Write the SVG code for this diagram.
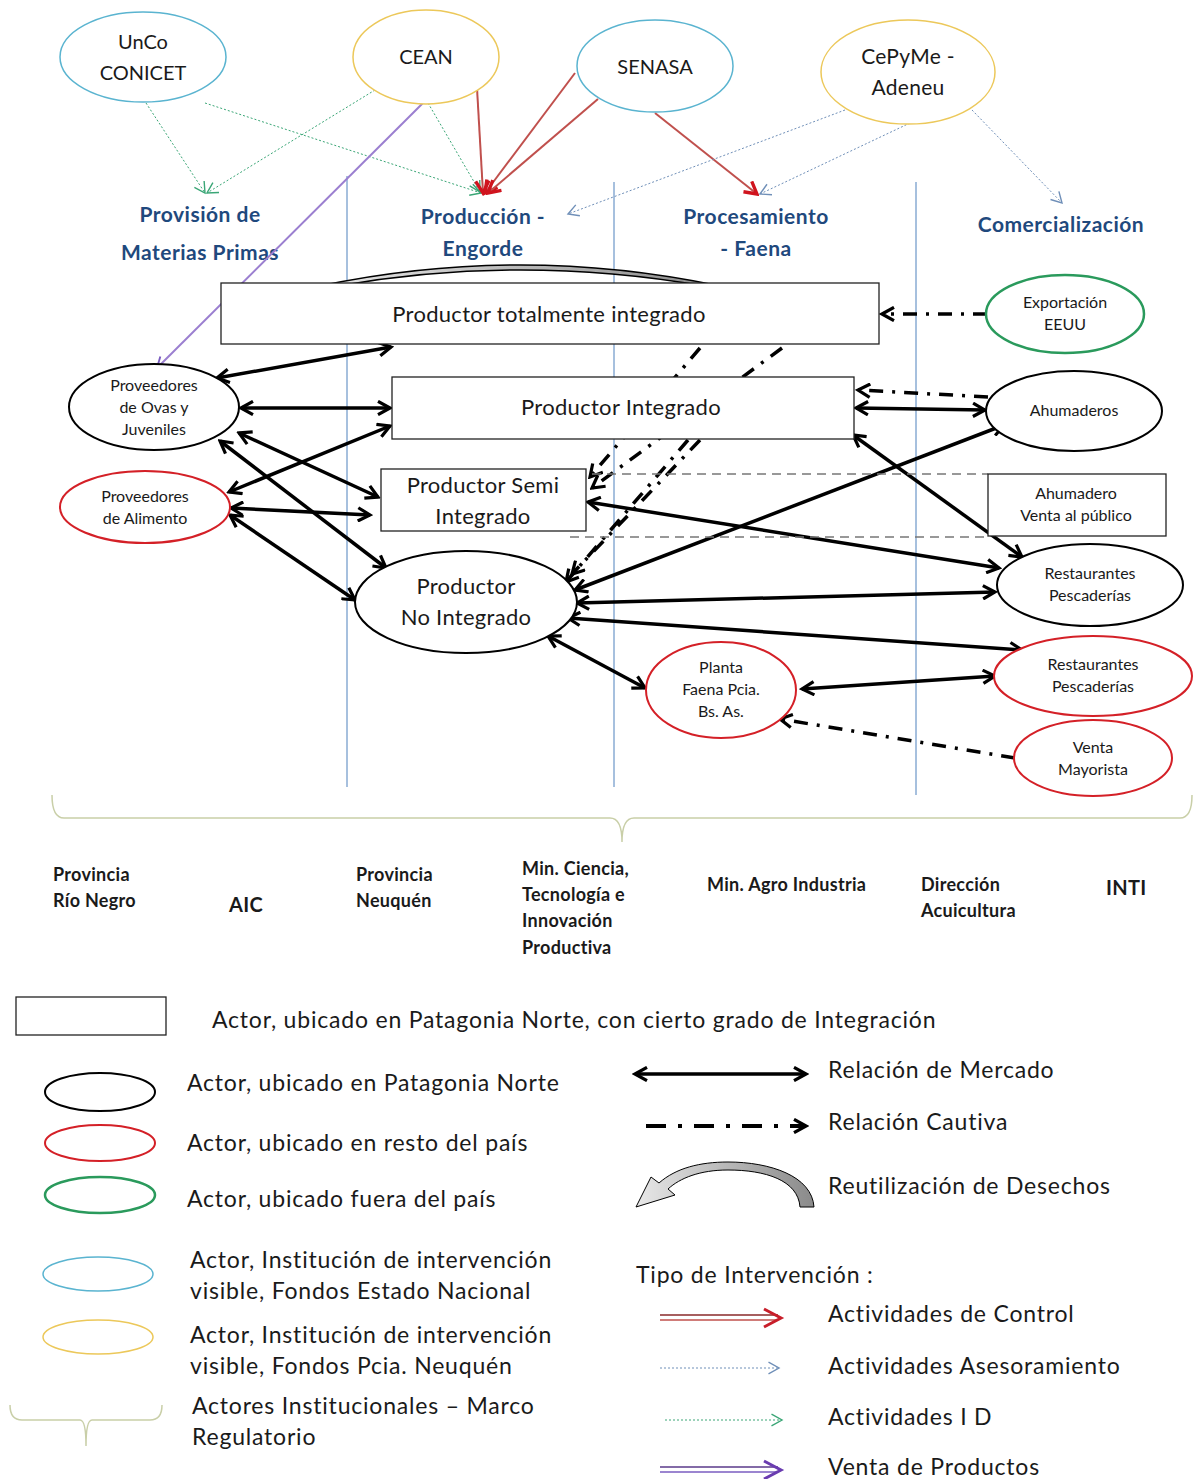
<svg xmlns="http://www.w3.org/2000/svg" width="1194" height="1479" viewBox="0 0 1194 1479">
<defs>
<style>
text{font-family:Lato,"Open Sans","Liberation Sans",sans-serif;fill:#1a1a1a}
.nt{font-size:16px;text-anchor:middle}
.bt{font-size:22px;letter-spacing:0.3px;text-anchor:middle}
.hd{font-size:21px;letter-spacing:0.5px;font-weight:bold;fill:#1f497d;text-anchor:middle}
.ins{font-size:18px;letter-spacing:0.3px;font-weight:bold}
.lg{font-size:23px;letter-spacing:0.8px}
.blk{fill:#fff;stroke:#000;stroke-width:2}
.red{fill:#fff;stroke:#d42027;stroke-width:2}
.grn{fill:#fff;stroke:#2a9a5c;stroke-width:2.5}
.blu{fill:#fff;stroke:#5ab4d0;stroke-width:1.5}
.yel{fill:#fff;stroke:#ecc85a;stroke-width:1.5}
.box{fill:#fff;stroke:#222;stroke-width:1.3}
.vl{stroke:#4f81bd;stroke-width:1;fill:none}
.mkt{stroke:#000;stroke-width:3.5;fill:none;marker-start:url(#mk);marker-end:url(#mk)}
.cap{stroke:#000;stroke-width:3.5;fill:none;stroke-dasharray:14 9 3 9;marker-end:url(#mk)}
.ctl{stroke:#c0504d;stroke-width:2;fill:none;marker-end:url(#mr)}
.idl{stroke:#3aa676;stroke-width:1;fill:none;stroke-dasharray:2 2;marker-end:url(#mg)}
.ase{stroke:#6f8fb8;stroke-width:1;fill:none;stroke-dasharray:2 2;marker-end:url(#mb)}
.pur{stroke:#9b7fd0;stroke-width:2;fill:none;marker-end:url(#mp)}
.dsh{stroke:#777;stroke-width:1.3;stroke-dasharray:9 6;fill:none}
</style>
<marker id="mk" viewBox="0 0 12 12" refX="10" refY="6" markerWidth="16" markerHeight="16" markerUnits="userSpaceOnUse" orient="auto-start-reverse"><path d="M1,1 L10,6 L1,11" fill="none" stroke="#000" stroke-width="2.4"/></marker>
<marker id="mr" viewBox="0 0 12 12" refX="10" refY="6" markerWidth="16" markerHeight="16" markerUnits="userSpaceOnUse" orient="auto"><path d="M1,1 L10,6 L1,11" fill="none" stroke="#d0141e" stroke-width="2.5"/></marker>
<marker id="mg" viewBox="0 0 12 12" refX="10" refY="6" markerWidth="14" markerHeight="14" markerUnits="userSpaceOnUse" orient="auto"><path d="M1,1 L10,6 L1,11" fill="none" stroke="#3aa676" stroke-width="1.2"/></marker>
<marker id="mb" viewBox="0 0 12 12" refX="10" refY="6" markerWidth="14" markerHeight="14" markerUnits="userSpaceOnUse" orient="auto"><path d="M1,1 L10,6 L1,11" fill="none" stroke="#6f8fb8" stroke-width="1.2"/></marker>
<marker id="mp" viewBox="0 0 12 12" refX="10" refY="6" markerWidth="14" markerHeight="14" markerUnits="userSpaceOnUse" orient="auto"><path d="M1,1 L10,6 L1,11" fill="none" stroke="#7a5cc0" stroke-width="1.6"/></marker>
<linearGradient id="gw" x1="0" y1="0" x2="1" y2="0"><stop offset="0" stop-color="#e8e8e8"/><stop offset="1" stop-color="#8a8a8a"/></linearGradient>
</defs>
<rect width="1194" height="1479" fill="#fff"/>

<g id="columns">
<line class="vl" x1="347" y1="176" x2="347" y2="787"/>
<line class="vl" x1="614" y1="182" x2="614" y2="787"/>
<line class="vl" x1="916" y1="182" x2="916" y2="795"/>
<text class="hd" x="200" y="222">Provisión de</text>
<text class="hd" x="200" y="260">Materias Primas</text>
<text class="hd" x="483" y="224">Producción -</text>
<text class="hd" x="483" y="256">Engorde</text>
<text class="hd" x="756" y="224">Procesamiento</text>
<text class="hd" x="756" y="256">- Faena</text>
<text class="hd" x="1061" y="232">Comercialización</text>
</g>

<g id="waste-arc">
<path d="M320 286 Q 520 244 720 286 L 704 286 Q 520 254 338 286 Z" fill="url(#gw)" stroke="#000" stroke-width="1.5"/>
</g>

<g id="connectors">
<line class="idl" x1="146" y1="103" x2="205" y2="193"/>
<line class="idl" x1="375" y1="90" x2="207" y2="193"/>
<line class="idl" x1="205" y1="103" x2="481" y2="193"/>
<line class="idl" x1="428" y1="103" x2="480" y2="192"/>
<line class="ctl" x1="477" y1="88" x2="483" y2="193"/>
<line class="ctl" x1="575" y1="73" x2="485" y2="193"/>
<line class="ctl" x1="598" y1="99" x2="488" y2="193"/>
<line class="ctl" x1="655" y1="113" x2="757" y2="194"/>
<line class="ase" x1="845" y1="110" x2="568" y2="214"/>
<line class="ase" x1="910" y1="123" x2="760" y2="194"/>
<line class="ase" x1="972" y1="110" x2="1062" y2="203"/>
<line class="pur" x1="423" y1="103" x2="157" y2="368"/>
<line class="cap" x1="700" y1="348" x2="590" y2="477"/>
<line class="cap" x1="782" y1="348" x2="592" y2="488"/>
<line class="cap" x1="700" y1="440" x2="572" y2="574"/>
<line class="cap" x1="688" y1="440" x2="566" y2="582"/>
<line class="cap" x1="987" y1="314" x2="882" y2="314"/>
<line class="cap" x1="988" y1="397" x2="858" y2="390"/>
<line class="cap" x1="1015" y1="758" x2="780" y2="719"/>
<line class="mkt" x1="217" y1="378" x2="391" y2="347"/>
<line class="mkt" x1="241" y1="408" x2="390" y2="408"/>
<line class="mkt" x1="239" y1="433" x2="378" y2="497"/>
<line class="mkt" x1="220" y1="441" x2="386" y2="568"/>
<line class="mkt" x1="229" y1="492" x2="390" y2="426"/>
<line class="mkt" x1="231" y1="508" x2="370" y2="515"/>
<line class="mkt" x1="230" y1="515" x2="355" y2="600"/>
<line class="mkt" x1="856" y1="408" x2="985" y2="410"/>
<line class="mkt" x1="853" y1="435" x2="1022" y2="557"/>
<line class="mkt" x1="588" y1="502" x2="999" y2="568"/>
<line class="mkt" x1="575" y1="590" x2="1004" y2="425"/>
<line class="mkt" x1="577" y1="603" x2="995" y2="592"/>
<line class="mkt" x1="568" y1="618" x2="1022" y2="650"/>
<line class="mkt" x1="548" y1="636" x2="645" y2="688"/>
<line class="mkt" x1="802" y1="689" x2="995" y2="676"/>
</g>

<g id="n-unco"><ellipse class="blu" cx="143" cy="57" rx="83" ry="45"/><text class="bt" x="143" y="49" style="font-size:20px;letter-spacing:0">UnCo</text><text class="bt" x="143" y="80" style="font-size:20px;letter-spacing:0">CONICET</text></g>
<g id="n-cean"><ellipse class="yel" cx="426" cy="57" rx="73" ry="47"/><text class="bt" x="426" y="64" style="font-size:20px;letter-spacing:0">CEAN</text></g>
<g id="n-senasa"><ellipse class="blu" cx="655" cy="66" rx="78" ry="46"/><text class="bt" x="655" y="74" style="font-size:20px;letter-spacing:0">SENASA</text></g>
<g id="n-cepyme"><ellipse class="yel" cx="908" cy="72" rx="87" ry="52"/><text class="bt" x="908" y="64" style="font-size:21px">CePyMe -</text><text class="bt" x="908" y="95" style="font-size:21px">Adeneu</text></g>

<g id="n-total"><rect class="box" x="221" y="283" width="658" height="61"/><text class="bt" x="549" y="322">Productor totalmente integrado</text></g>
<g id="n-integrado"><rect class="box" x="392" y="377" width="462" height="62"/><text class="bt" x="621" y="415">Productor Integrado</text></g>
<line class="dsh" x1="592" y1="474" x2="988" y2="474"/>
<line class="dsh" x1="570" y1="537" x2="988" y2="537"/>
<g id="n-semi"><rect class="box" x="381" y="469" width="205" height="62"/><text class="bt" x="483" y="493">Productor Semi</text><text class="bt" x="483" y="524">Integrado</text></g>
<g id="n-ahumventa"><rect class="box" x="988" y="474" width="178" height="62"/><text class="nt" x="1076" y="499">Ahumadero</text><text class="nt" x="1076" y="521">Venta al público</text></g>

<g id="n-ovas"><ellipse class="blk" cx="154" cy="407" rx="85" ry="43"/><text class="nt" x="154" y="391">Proveedores</text><text class="nt" x="154" y="413">de Ovas y</text><text class="nt" x="154" y="435">Juveniles</text></g>
<g id="n-alimento"><ellipse class="red" cx="145" cy="507" rx="85" ry="36"/><text class="nt" x="145" y="502">Proveedores</text><text class="nt" x="145" y="524">de Alimento</text></g>
<g id="n-noint"><ellipse class="blk" cx="466" cy="602" rx="111" ry="51"/><text class="bt" x="466" y="594">Productor</text><text class="bt" x="466" y="625">No Integrado</text></g>
<g id="n-export"><ellipse class="grn" cx="1065" cy="314" rx="79" ry="39"/><text class="nt" x="1065" y="308">Exportación</text><text class="nt" x="1065" y="330">EEUU</text></g>
<g id="n-ahum"><ellipse class="blk" cx="1074" cy="411" rx="88" ry="40"/><text class="nt" x="1074" y="416">Ahumaderos</text></g>
<g id="n-rest1"><ellipse class="blk" cx="1090" cy="585" rx="93" ry="41"/><text class="nt" x="1090" y="579">Restaurantes</text><text class="nt" x="1090" y="601">Pescaderías</text></g>
<g id="n-rest2"><ellipse class="red" cx="1093" cy="676" rx="99" ry="40"/><text class="nt" x="1093" y="670">Restaurantes</text><text class="nt" x="1093" y="692">Pescaderías</text></g>
<g id="n-planta"><ellipse class="red" cx="721" cy="690" rx="75" ry="48"/><text class="nt" x="721" y="673">Planta</text><text class="nt" x="721" y="695">Faena Pcia.</text><text class="nt" x="721" y="717">Bs. As.</text></g>
<g id="n-venta"><ellipse class="red" cx="1093" cy="758" rx="79" ry="38"/><text class="nt" x="1093" y="753">Venta</text><text class="nt" x="1093" y="775">Mayorista</text></g>

<g id="institutions">
<path d="M52 795 Q 52 818 64 818 L 610 818 Q 622 818 622 842 Q 622 818 634 818 L 1180 818 Q 1192 818 1192 795" fill="none" stroke="#c9cfa8" stroke-width="1.5"/>
<text class="ins" x="53" y="881">Provincia</text>
<text class="ins" x="53" y="907">Río Negro</text>
<text class="ins" x="229" y="912" style="font-size:20px">AIC</text>
<text class="ins" x="356" y="881">Provincia</text>
<text class="ins" x="356" y="907">Neuquén</text>
<text class="ins" x="522" y="875">Min.  Ciencia,</text>
<text class="ins" x="522" y="901">Tecnología e</text>
<text class="ins" x="522" y="927">Innovación</text>
<text class="ins" x="522" y="954">Productiva</text>
<text class="ins" x="707" y="891">Min. Agro Industria</text>
<text class="ins" x="921" y="891">Dirección</text>
<text class="ins" x="921" y="917">Acuicultura</text>
<text class="ins" x="1106" y="895" style="font-size:20px">INTI</text>
</g>

<g id="legend">
<rect class="box" x="16" y="997" width="150" height="38"/>
<text class="lg" x="212" y="1028">Actor, ubicado en Patagonia Norte, con cierto grado de Integración</text>
<ellipse class="blk" cx="100" cy="1092" rx="55" ry="19"/>
<text class="lg" x="187" y="1091">Actor, ubicado en Patagonia Norte</text>
<ellipse class="red" cx="100" cy="1143" rx="55" ry="18"/>
<text class="lg" x="187" y="1151">Actor, ubicado  en resto del país</text>
<ellipse class="grn" cx="100" cy="1195" rx="55" ry="18"/>
<text class="lg" x="187" y="1207">Actor, ubicado fuera del país</text>
<ellipse class="blu" cx="98" cy="1274" rx="55" ry="17"/>
<text class="lg" x="190" y="1268">Actor, Institución de intervención</text>
<text class="lg" x="190" y="1299">visible, Fondos Estado Nacional</text>
<ellipse class="yel" cx="98" cy="1337" rx="55" ry="17"/>
<text class="lg" x="190" y="1343">Actor, Institución de intervención</text>
<text class="lg" x="190" y="1374">visible, Fondos Pcia. Neuquén</text>
<path d="M10 1405 Q 10 1420 22 1420 L 80 1420 Q 86 1420 86 1446 Q 86 1420 92 1420 L 150 1420 Q 162 1420 162 1405" fill="none" stroke="#c9cfa8" stroke-width="1.5"/>
<text class="lg" x="192" y="1414">Actores Institucionales – Marco</text>
<text class="lg" x="192" y="1445">Regulatorio</text>

<line class="mkt" x1="635" y1="1074" x2="806" y2="1074"/>
<text class="lg" x="828" y="1078">Relación de Mercado</text>
<path d="M646 1126 L 806 1126" fill="none" stroke="#000" stroke-width="4" stroke-dasharray="20 12 4 12" marker-end="url(#mk)"/>
<text class="lg" x="828" y="1130">Relación Cautiva</text>
<path d="M800 1207 C 798 1180 765 1170 728 1170 C 700 1170 680 1178 668 1189 L 675 1195 L 636 1207 L 651 1177 L 659 1183 C 676 1168 700 1162 728 1162 C 770 1162 812 1176 814 1207 Z" fill="url(#gw)" stroke="#000" stroke-width="1"/>
<text class="lg" x="828" y="1194">Reutilización de Desechos</text>
<text class="lg" x="636" y="1283">Tipo de Intervención :</text>
<line x1="660" y1="1315" x2="778" y2="1315" stroke="#8a2a2a" stroke-width="1.5"/>
<line x1="660" y1="1320" x2="778" y2="1320" stroke="#c0504d" stroke-width="1.5"/>
<path d="M764 1309 L 781 1318 L 764 1327" fill="none" stroke="#c81e2a" stroke-width="3"/>
<text class="lg" x="828" y="1322">Actividades de Control</text>
<line class="ase" x1="660" y1="1368" x2="779" y2="1368"/>
<text class="lg" x="828" y="1374">Actividades Asesoramiento</text>
<line class="idl" x1="665" y1="1420" x2="782" y2="1420"/>
<text class="lg" x="828" y="1425">Actividades I D</text>
<line x1="660" y1="1467" x2="778" y2="1467" stroke="#5a3a8a" stroke-width="1.5"/>
<line x1="660" y1="1472" x2="778" y2="1472" stroke="#7a5cc0" stroke-width="1.5"/>
<path d="M764 1461 L 781 1470 L 764 1479" fill="none" stroke="#6a3cb0" stroke-width="3"/>
<text class="lg" x="828" y="1475">Venta de Productos</text>
</g>
</svg>
